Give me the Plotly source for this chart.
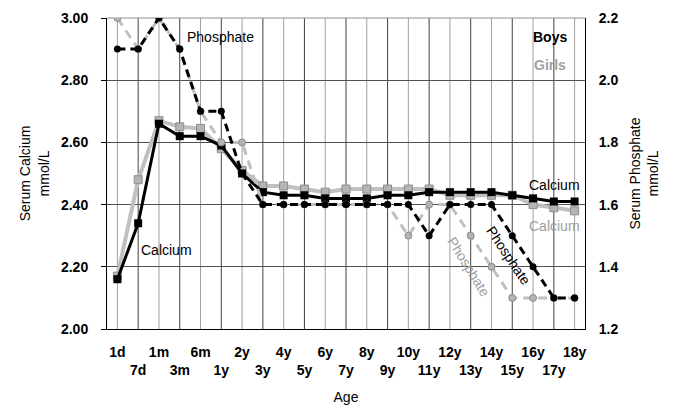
import plotly.graph_objects as go

ages = ["1d", "7d", "1m", "3m", "6m", "1y", "2y", "3y", "4y", "5y", "6y", "7y",
        "8y", "9y", "10y", "11y", "12y", "13y", "14y", "15y", "16y", "17y", "18y"]

calcium_boys = [2.16, 2.34, 2.66, 2.62, 2.62, 2.59, 2.50, 2.44, 2.43, 2.43, 2.42, 2.42,
                2.42, 2.43, 2.43, 2.44, 2.44, 2.44, 2.44, 2.43, 2.42, 2.41, 2.41]
calcium_girls = [2.17, 2.48, 2.67, 2.65, 2.645, 2.58, 2.51, 2.46, 2.46, 2.45, 2.44, 2.45,
                 2.45, 2.45, 2.45, 2.45, 2.43, 2.43, 2.43, 2.43, 2.40, 2.39, 2.38]
phosphate_boys = [2.1, 2.1, 2.2, 2.1, 1.9, 1.9, 1.7, 1.6, 1.6, 1.6, 1.6, 1.6,
                  1.6, 1.6, 1.6, 1.5, 1.6, 1.6, 1.6, 1.5, 1.4, 1.3, 1.3]
phosphate_girls = [2.2, 2.1, 2.2, 2.1, 1.9, 1.8, 1.8, 1.6, 1.6, 1.6, 1.6, 1.6,
                   1.6, 1.6, 1.5, 1.6, 1.6, 1.5, 1.4, 1.3, 1.3, 1.3, 1.3]

tick_text = [a if i % 2 == 0 else "<br>" + a for i, a in enumerate(ages)]

FONT = "Arial, Liberation Sans, sans-serif"
GRAY_LINE = "#c0c0c0"
GRAY_FILL = "#b4b4b4"
GRAY_EDGE = "#8c8c8c"

fig = go.Figure()

# Phosphate (secondary axis) drawn first
fig.add_trace(go.Scatter(
    x=ages, y=phosphate_girls, yaxis="y2", mode="lines+markers",
    line=dict(color=GRAY_LINE, width=3, dash="9px,6px"),
    marker=dict(symbol="circle", size=7, color=GRAY_FILL, line=dict(color=GRAY_EDGE, width=1)),
))
fig.add_trace(go.Scatter(
    x=ages, y=phosphate_boys, yaxis="y2", mode="lines+markers",
    line=dict(color="black", width=3, dash="8px,5px"),
    marker=dict(symbol="circle", size=7, color="black"),
))
# Calcium (primary axis)
fig.add_trace(go.Scatter(
    x=ages, y=calcium_girls, mode="lines+markers",
    line=dict(color=GRAY_LINE, width=4),
    marker=dict(symbol="square", size=8, color=GRAY_FILL, line=dict(color=GRAY_EDGE, width=1)),
))
fig.add_trace(go.Scatter(
    x=ages, y=calcium_boys, mode="lines+markers",
    line=dict(color="black", width=3),
    marker=dict(symbol="square", size=8, color="black"),
))

# vertical category lines, alternating gray / dark
shapes = []
for i, a in enumerate(ages):
    shapes.append(dict(type="line", xref="x", yref="paper", x0=a, x1=a, y0=0, y1=1,
                       line=dict(color="#a0a0a0" if i % 2 == 0 else "#404040", width=1),
                       layer="below"))
shapes.append(dict(type="line", xref="paper", yref="paper", x0=0, x1=1, y0=1, y1=1,
                   line=dict(color="#909090", width=1), layer="below"))

annots = [
    dict(text="Phosphate", x=0.163, y=0.939, xanchor="left", font=dict(size=14, color="black")),
    dict(text="Calcium", x=0.1245, y=0.254, font=dict(size=14, color="black")),
    dict(text="<b>Boys</b>", x=0.927, y=0.939, font=dict(size=14, color="black")),
    dict(text="<b>Girls</b>", x=0.927, y=0.849, font=dict(size=14, color="#a0a0a0")),
    dict(text="Calcium", x=0.937, y=0.463, font=dict(size=14, color="black")),
    dict(text="Calcium", x=0.937, y=0.331, font=dict(size=14, color="#a0a0a0")),
    dict(text="Phosphate", x=0.757, y=0.199, textangle=58, font=dict(size=14, color="#a0a0a0")),
    dict(text="Phosphate", x=0.841, y=0.235, textangle=56, font=dict(size=14, color="black")),
]
for a in annots:
    a.setdefault("xanchor", "center")
    a.update(xref="paper", yref="paper", yanchor="middle", showarrow=False, font_family=FONT)

# page body has an 8px default margin, compensate so the plot area lands at
# x 107..585, y 18..329 in the window
fig.update_layout(
    width=684, height=417,
    margin=dict(l=99, r=107, t=10, b=96, autoexpand=False),
    paper_bgcolor="white", plot_bgcolor="white",
    showlegend=False,
    font=dict(family=FONT, color="black"),
    shapes=shapes,
    annotations=annots,
    xaxis=dict(
        type="category", range=[-0.5, 22.5], automargin=False,
        tickmode="array", tickvals=ages, ticktext=tick_text, tickangle=0,
        tickfont=dict(size=14, weight="bold"),
        showgrid=False, showline=True, linecolor="black", linewidth=1,
        ticks="", ticklabelstandoff=10,
        title=dict(text="Age", font=dict(size=14), standoff=15),
        zeroline=False,
    ),
    yaxis=dict(
        range=[2.0, 3.0], dtick=0.2, tick0=2.0, tickformat=".2f", automargin=False,
        tickfont=dict(size=14, weight="bold"),
        showgrid=True, gridcolor="#505050", gridwidth=1,
        showline=True, linecolor="black", linewidth=1,
        ticks="outside", ticklen=5, tickcolor="black", ticklabelstandoff=10,
        title=dict(text="Serum Calcium<br>mmol/L", font=dict(size=14), standoff=8),
        zeroline=False,
    ),
    yaxis2=dict(
        overlaying="y", side="right", automargin=False,
        range=[1.2, 2.2], dtick=0.2, tick0=1.2, tickformat=".1f",
        tickfont=dict(size=14, weight="bold"),
        showgrid=False, showline=True, linecolor="black", linewidth=1,
        ticks="", ticklabelstandoff=10,
        title=dict(text="Serum Phosphate<br>mmol/L", font=dict(size=14), standoff=12),
        zeroline=False,
    ),
)

fig.write_html("out.html")
